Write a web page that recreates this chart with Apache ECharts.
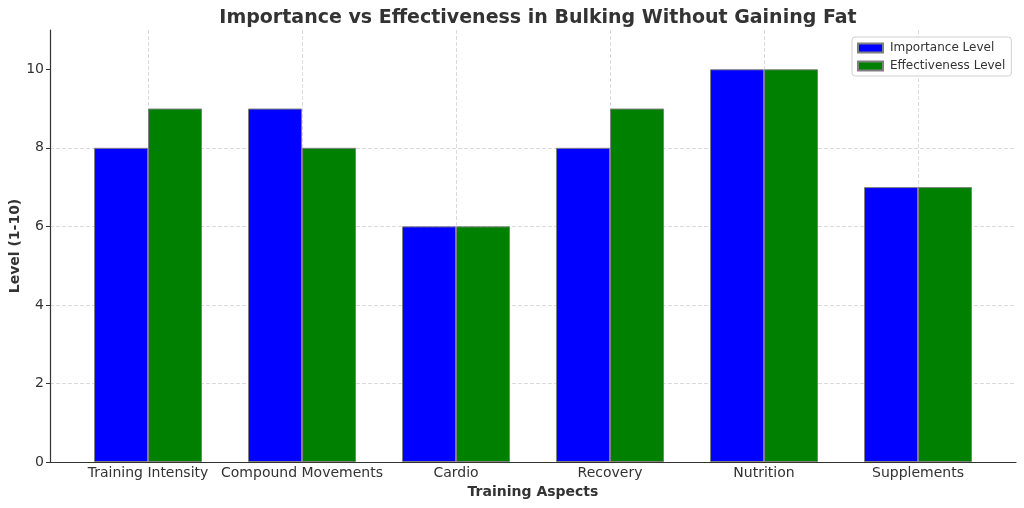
<!DOCTYPE html>
<html>
<head>
<meta charset="utf-8">
<script src="https://cdn.jsdelivr.net/npm/echarts@6/dist/echarts.min.js"></script>
<style>html,body{margin:0;padding:0;background:#fff}#c{width:1024px;height:508px}</style>
</head>
<body>
<div id="c"></div>
<script>
const categories = ['Training Intensity', 'Compound Movements', 'Cardio', 'Recovery', 'Nutrition', 'Supplements'];
const importance = [8, 9, 6, 8, 10, 7];
const effectiveness = [9, 8, 6, 9, 10, 7];
const yTicks = [0, 2, 4, 6, 8, 10];

const font = 'DejaVu Sans';
const chart = echarts.init(document.getElementById('c'), null, {renderer: 'canvas'});
const gridLine = {color: '#d0d0d0', type: [4, 2], width: 0.8};
const option = {
  animation: false,
  backgroundColor: '#fff',
  title: {
    text: 'Importance vs Effectiveness in Bulking Without Gaining Fat',
    left: 533, top: 4, textAlign: 'center',
    textStyle: {fontFamily: font, fontSize: 19, fontWeight: 'bold', color: '#333'}
  },
  legend: {
    orient: 'vertical', left: 852, top: 37,
    itemWidth: 25, itemHeight: 9, itemGap: 6, icon: 'rect',
    padding: [5, 6, 4, 5],
    borderColor: '#d0d0d0', borderWidth: 1, borderRadius: 3,
    backgroundColor: 'rgba(255,255,255,0.85)',
    textStyle: {fontFamily: font, fontSize: 12, color: '#333', padding: [0, 0, 0, 2]},
    data: ['Importance Level', 'Effectiveness Level']
  },
  grid: [
    {left: 50, right: 8, top: 30, bottom: 46, outerBoundsMode: 'none'},
    {left: 71, right: 29, top: 30, bottom: 46, outerBoundsMode: 'none'},
    {left: 148, right: 106, top: 30, bottom: 46, outerBoundsMode: 'none'}
  ],
  xAxis: [
    {gridIndex: 0, type: 'value', min: 0, max: 1,
     axisLine: {show: true, lineStyle: {color: '#333', width: 1.2}},
     axisTick: {show: false}, axisLabel: {show: false}, splitLine: {show: false},
     name: 'Training Aspects', nameLocation: 'middle', nameGap: 23, nameMoveOverlap: false,
     nameTextStyle: {fontFamily: font, fontSize: 14, fontWeight: 'bold', color: '#333'}},
    {gridIndex: 1, type: 'category', data: categories,
     axisLine: {show: false}, axisTick: {show: false},
     axisLabel: {fontFamily: font, fontSize: 14, color: '#333', margin: 4, interval: 0},
     splitLine: {show: false}},
    {gridIndex: 2, type: 'value', min: 0, max: 5, interval: 1,
     axisLine: {show: false}, axisTick: {show: false}, axisLabel: {show: false},
     splitLine: {show: true, lineStyle: gridLine}}
  ],
  yAxis: [
    {gridIndex: 0, type: 'value', min: 0, max: 11, interval: 2,
     axisLine: {show: true, lineStyle: {color: '#333', width: 1.2}},
     axisTick: {show: true, length: 4, lineStyle: {color: '#333'}, customValues: yTicks},
     axisLabel: {fontFamily: font, fontSize: 14, color: '#333', margin: 6, customValues: yTicks},
     splitLine: {show: true, showMaxLine: false, lineStyle: gridLine},
     name: 'Level (1-10)', nameLocation: 'middle', nameGap: 28, nameRotate: 90, nameMoveOverlap: false,
     nameTextStyle: {fontFamily: font, fontSize: 14, fontWeight: 'bold', color: '#333'}},
    {gridIndex: 1, type: 'value', min: 0, max: 11, show: false, splitLine: {show: false}},
    {gridIndex: 2, type: 'value', min: 0, max: 11, show: false, splitLine: {show: false}}
  ],
  series: [
    {name: 'Importance Level', type: 'bar', xAxisIndex: 1, yAxisIndex: 1,
     data: importance, barWidth: 54, barGap: '0%',
     itemStyle: {color: '#0000ff', borderColor: '#808080', borderWidth: 1}},
    {name: 'Effectiveness Level', type: 'bar', xAxisIndex: 1, yAxisIndex: 1,
     data: effectiveness, barWidth: 54, barGap: '0%',
     itemStyle: {color: '#008000', borderColor: '#808080', borderWidth: 1}}
  ]
};
chart.setOption(option);
</script>
</body>
</html>
